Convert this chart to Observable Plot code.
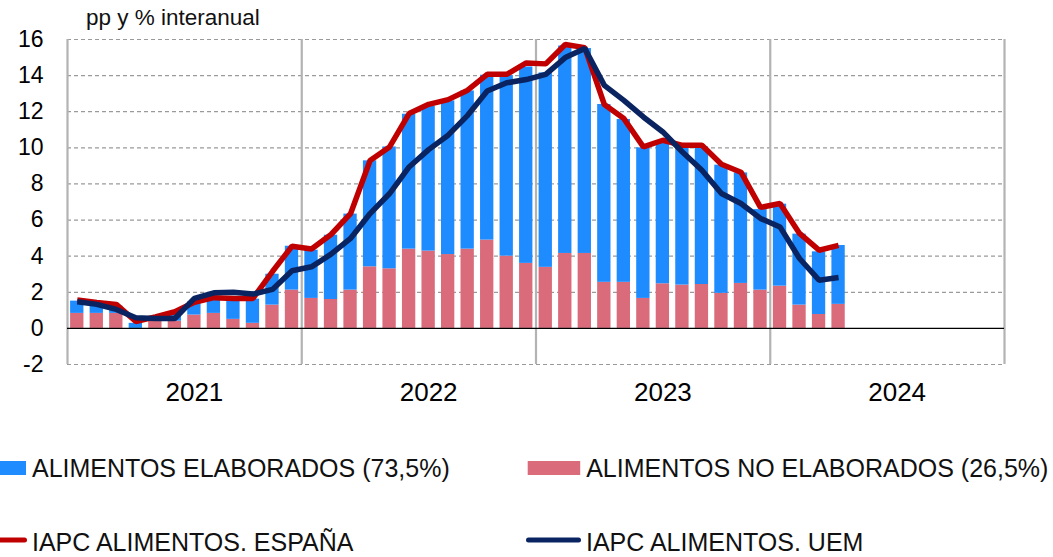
<!DOCTYPE html>
<html><head><meta charset="utf-8">
<script src="https://cdn.jsdelivr.net/npm/d3@7"></script>
<script src="https://cdn.jsdelivr.net/npm/@observablehq/plot@0.6"></script>
<style>
body{margin:0;background:#fff;font-family:"Liberation Sans",Arial,Helvetica,sans-serif;}
#wrap{position:relative;width:1053px;height:557px;overflow:hidden;background:#fff;}
#chart{position:absolute;left:0;top:0;}
#unit{position:absolute;left:86px;top:5px;font-size:22.5px;color:#111;white-space:nowrap;}
#legend{position:absolute;left:0;top:420px;}
</style></head>
<body><div id="wrap"><div id="chart"></div><div id="unit">pp y % interanual</div><svg id="legend" width="1053" height="137"></svg></div>
<script>
// Month categories (Jan 2021 - Apr 2024 with data; axis spans to Dec 2024)
const years = ["2021", "2022", "2023", "2024"];
const monthNames = ["ene","feb","mar","abr","may","jun","jul","ago","sep","oct","nov","dic"];
const months = years.flatMap(y => monthNames.map(m => `${m} ${y}`));

// Contribution of processed food (pp)
const elaborados = [
  0.68, 0.59, 0.40, 0.28, 0.20, 0.40, 0.73, 0.83, 1.12, 1.34, 1.71, 2.43,
  2.67, 3.56, 4.21, 5.87, 6.75, 7.47, 8.02, 8.51, 8.76, 9.13, 10.00, 10.88,
  10.77, 11.49, 11.35, 9.85, 9.02, 8.34, 7.80, 7.65, 7.62, 7.10, 6.12, 4.46,
  4.54, 3.93, 3.47, 3.26
];
// Contribution of unprocessed food (pp)
const noElaborados = [
  0.83, 0.83, 0.83, 0.00, 0.40, 0.40, 0.74, 0.83, 0.50, 0.28, 1.29, 2.12,
  1.66, 1.60, 2.12, 3.41, 3.30, 4.39, 4.28, 4.09, 4.39, 4.89, 4.00, 3.60,
  3.38, 4.15, 4.15, 2.55, 2.55, 1.66, 2.47, 2.40, 2.43, 1.94, 2.49, 2.12,
  2.34, 1.29, 0.77, 1.33
];
// HICP food, Spain (% y/y)
const espana = [
  1.57, 1.44, 1.33, 0.38, 0.64, 0.92, 1.45, 1.70, 1.65, 1.66, 3.15, 4.55,
  4.40, 5.20, 6.35, 9.30, 10.05, 11.90, 12.41, 12.67, 13.19, 14.07, 14.07, 14.70,
  14.65, 15.72, 15.55, 12.40, 11.62, 10.05, 10.42, 10.14, 10.14, 9.09, 8.65, 6.70,
  6.92, 5.26, 4.33, 4.60
];
// HICP food, euro area (% y/y)
const uem = [
  1.47, 1.33, 1.05, 0.59, 0.55, 0.55, 1.66, 1.97, 2.00, 1.90, 2.16, 3.19,
  3.41, 4.11, 4.98, 6.36, 7.47, 8.94, 9.90, 10.70, 11.80, 13.15, 13.60, 13.78,
  14.07, 15.00, 15.50, 13.46, 12.63, 11.71, 10.88, 9.77, 8.76, 7.47, 6.92, 6.09,
  5.62, 3.87, 2.67, 2.82
];
const yTicks = [-2, 0, 2, 4, 6, 8, 10, 12, 14, 16];

const C = {elab: "#1e8cff", noelab: "#d96b7a", es: "#c00000", uem: "#0a2461", grid: "#9a9a9a", year: "#b3b3b3"};

const rows = elaborados.map((v, i) => ({
  i, month: months[i], elab: v, ne: noElaborados[i], tot: noElaborados[i] + v, es: espana[i], uem: uem[i]
}));
const yearRows = years.map((y, k) => ({y, k}));
const bounds = d3.range(0, months.length + 1, 12);

const plot = Plot.plot({
  width: 1053, height: 420,
  marginLeft: 67, marginRight: 49, marginTop: 39, marginBottom: 56,
  style: {fontFamily: '"Liberation Sans", Arial, sans-serif', background: "#fff", color: "#000"},
  x: {type: "linear", domain: [0, months.length], axis: null},
  y: {domain: [-2, 16], axis: null},
  marks: [
    Plot.gridY(yTicks.filter(d => d !== 0), {stroke: C.grid, strokeOpacity: 1, strokeWidth: 1.2, strokeDasharray: "4,3"}),
    Plot.ruleX(bounds, {stroke: C.year, strokeWidth: 2.2}),
    Plot.rectY(rows, {x: "i", interval: 1, y1: 0, y2: "ne", fill: C.noelab, insetLeft: 3.1, insetRight: 3.1}),
    Plot.rectY(rows, {x: "i", interval: 1, y1: "ne", y2: "tot", fill: C.elab, insetLeft: 3.1, insetRight: 3.1}),
    Plot.ruleY([0], {stroke: "#000", strokeWidth: 1.4}),
    Plot.line(rows, {x: d => d.i + 0.5, y: "es", stroke: C.es, strokeWidth: 5.5, strokeLinejoin: "miter", strokeLinecap: "butt"}),
    Plot.line(rows, {x: d => d.i + 0.5, y: "uem", stroke: C.uem, strokeWidth: 5.5, strokeLinejoin: "miter", strokeLinecap: "butt"}),
    Plot.axisY(yTicks, {tickSize: 0, tickPadding: 24, fontSize: 23, tickFormat: d => String(d), label: null, fill: "#000"}),
    Plot.text(yearRows, {x: d => d.k * 12 + 6.5, frameAnchor: "bottom", dy: 36, text: "y", fontSize: 26, fill: "#000"})
  ]
});
document.getElementById("chart").appendChild(plot);

// Legend
const legendItems = [
  {label: "ALIMENTOS ELABORADOS (73,5%)", type: "rect", color: C.elab, x: 0, w: 26, row: 0},
  {label: "ALIMENTOS NO ELABORADOS (26,5%)", type: "rect", color: C.noelab, x: 527.7, w: 52.5, row: 0},
  {label: "IAPC ALIMENTOS. ESPAÑA", type: "line", color: C.es, x: -3, w: 30, row: 1},
  {label: "IAPC ALIMENTOS. UEM", type: "line", color: C.uem, x: 526, w: 55, row: 1}
];
const lg = d3.select("#legend");
const rowY = [41, 120];
const rowBase = [57, 131];
for (const it of legendItems) {
  const y0 = rowY[it.row];
  if (it.type === "rect") {
    lg.append("rect").attr("x", it.x).attr("y", y0).attr("width", it.w).attr("height", 14).attr("fill", it.color);
  } else {
    lg.append("line").attr("x1", it.x + 2.5).attr("x2", it.x + it.w - 2.5).attr("y1", y0).attr("y2", y0)
      .attr("stroke", it.color).attr("stroke-width", 5).attr("stroke-linecap", "round");
  }
  lg.append("text").attr("x", it.x + it.w + (it.type === "rect" ? 6 : 5))
    .attr("y", rowBase[it.row])
    .attr("font-size", 25).attr("fill", "#111")
    .attr("font-family", '"Liberation Sans", Arial, sans-serif')
    .text(it.label);
}
</script>
</body></html>
